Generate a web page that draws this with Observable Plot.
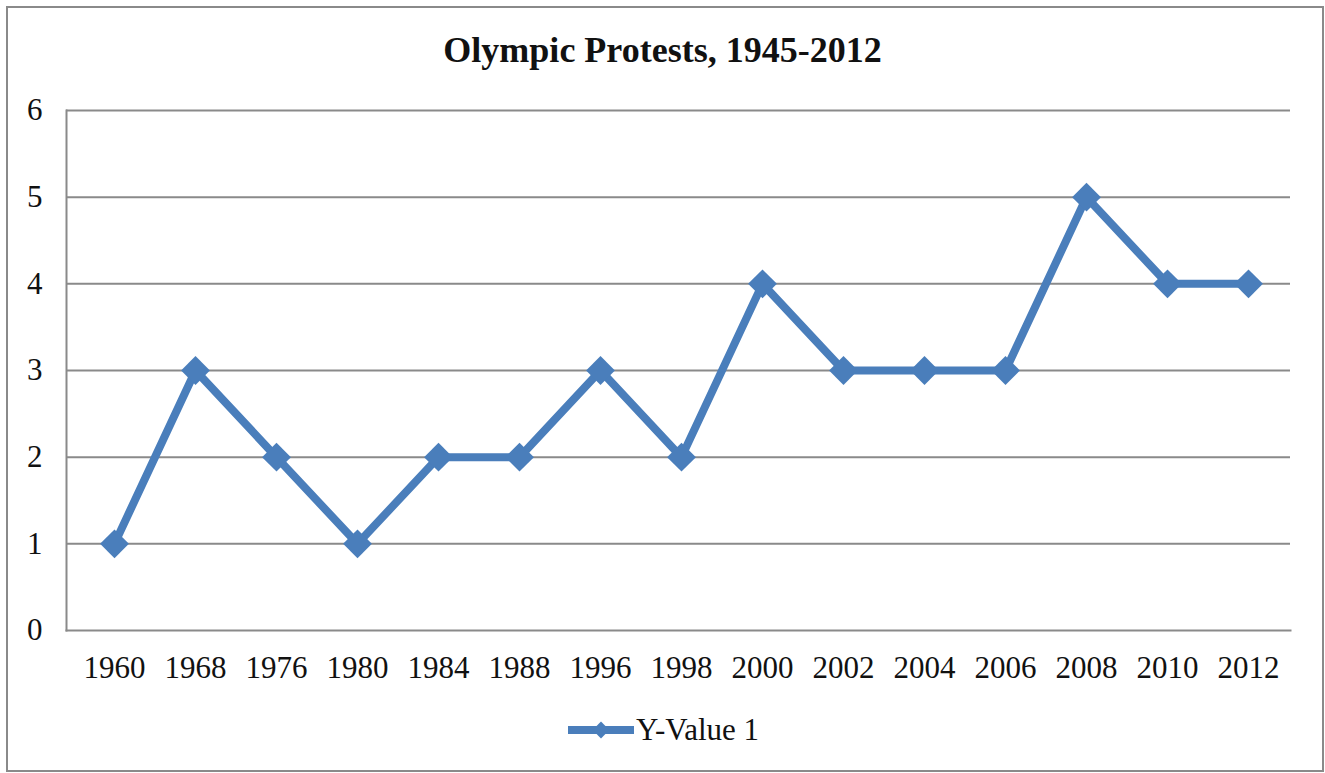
<!DOCTYPE html>
<html>
<head>
<meta charset="utf-8">
<script src="https://cdn.jsdelivr.net/npm/d3@7"></script>
<script src="https://cdn.jsdelivr.net/npm/@observablehq/plot@0.6"></script>
<style>
  html, body { margin: 0; padding: 0; background: #fff; }
  #wrap { position: relative; width: 1325px; height: 773px; overflow: hidden; font-family: "Liberation Serif", "Times New Roman", serif; }
  #border { position: absolute; left: 6px; top: 6px; width: 1314px; height: 762px; border: 2px solid #8a8a8a; }
  #title { position: absolute; left: 0; width: 1325px; top: 28px; text-align: center; font-size: 36px; font-weight: bold; color: #111; line-height: 44px; }
  #chart { position: absolute; left: 0; top: 80px; }
  #legend { position: absolute; left: 0; width: 1325px; top: 708px; text-align: center; font-size: 31px; color: #111; line-height: 38px; }
  #legend svg { vertical-align: middle; margin-right: 0px; }
</style>
</head>
<body>
<div id="wrap">
  <div id="border"></div>
  <div id="title"></div>
  <div id="chart"></div>
  <div id="legend"></div>
</div>
<script>
const title = "Olympic Protests, 1945-2012";
const years = ["1960","1968","1976","1980","1984","1988","1996","1998","2000","2002","2004","2006","2008","2010","2012"];
const values = [1, 3, 2, 1, 2, 2, 3, 2, 4, 3, 3, 3, 5, 4, 4];
const yTicks = [0, 1, 2, 3, 4, 5, 6];
const seriesName = "Y-Value 1";
const lineColor = "#4a7ebb";

const data = years.map((y, i) => ({year: y, value: values[i]}));

document.getElementById("title").textContent = title;

const plot = Plot.plot({
  width: 1325,
  height: 620,
  marginLeft: 66,
  marginRight: 35,
  marginTop: 30,
  marginBottom: 70,
  style: { fontFamily: "'Liberation Serif', 'Times New Roman', serif", fontSize: "31px", color: "#111", background: "transparent" },
  x: { type: "point", domain: years, range: [110, 1252], padding: 0, label: null },
  y: { domain: [0, 6], label: null },
  marks: [
    Plot.ruleY(yTicks.filter(d => d > 0), { stroke: "#8a8a8a", strokeWidth: 2, strokeOpacity: 1 }),
    Plot.frame({ anchor: "left", stroke: "#8a8a8a", strokeWidth: 2, strokeOpacity: 1 }),
    Plot.frame({ anchor: "bottom", stroke: "#8a8a8a", strokeWidth: 2, strokeOpacity: 1 }),
    Plot.axisY({ ticks: yTicks, tickFormat: d3.format("d"), tickSize: 0, tickPadding: 24, fontSize: 31 }),
    Plot.axisX({ tickSize: 0, tickPadding: 25, fontSize: 31 }),
    Plot.line(data, { x: "year", y: "value", stroke: lineColor, strokeWidth: 8, strokeLinejoin: "miter", strokeLinecap: "butt" }),
    Plot.dot(data, { x: "year", y: "value", symbol: "diamond2", r: 13, fill: lineColor, stroke: "none" })
  ]
});
document.getElementById("chart").appendChild(plot);

const legend = document.getElementById("legend");
const sw = d3.create("svg").attr("width", 70).attr("height", 28);
sw.append("line").attr("x1", 2).attr("x2", 68).attr("y1", 14).attr("y2", 14)
  .attr("stroke", lineColor).attr("stroke-width", 8);
sw.append("path").attr("transform", "translate(35,14)")
  .attr("d", d3.symbol(d3.symbolDiamond2, 180)()).attr("fill", lineColor);
legend.appendChild(sw.node());
const lt = document.createElement("span");
lt.textContent = seriesName;
lt.style.verticalAlign = "middle";
legend.appendChild(lt);
</script>
</body>
</html>
